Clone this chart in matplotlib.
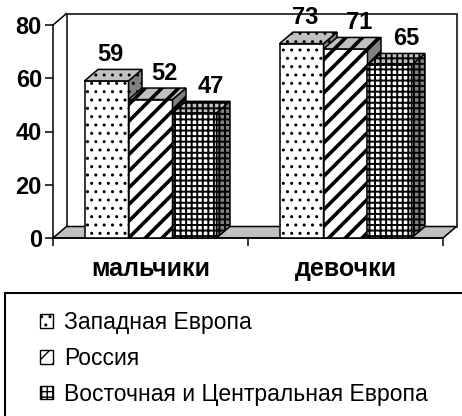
import matplotlib
matplotlib.use("Agg")
import matplotlib.pyplot as plt
from matplotlib.patches import Polygon, Rectangle, Patch

plt.rcParams['font.family'] = ['Liberation Sans', 'DejaVu Sans']

categories = ["мальчики", "девочки"]
series_names = ["Западная Европа", "Россия", "Восточная и Центральная Европа"]
west_europe = [59, 73]
russia = [52, 71]
east_central = [47, 65]
values = [west_europe, russia, east_central]
yticks = [0, 20, 40, 60, 80]

# pattern per series: hatch, hatch linewidth, front/side/top colours
hatches = ["..", "//", "+++"]
hatch_lw = [1.0, 2.6, 1.4]
front_col = ["white", "white", "white"]
side_col = ["#808080", "#808080", "#808080"]
top_col = ["#c0c0c0", "#c0c0c0", "#c0c0c0"]
label_shift = [0.02, 0.07, 0.085]

fig = plt.figure(figsize=(4.62, 4.16), dpi=100)
ax = fig.add_axes([53 / 462, 178 / 416, 390 / 462, 213 / 416])
ax.set_xlim(0, 2)
ax.set_ylim(0, 80)

dx = 13.5 / 195      # 3d depth in x units
dy = 11.5 / 2.6625   # 3d depth in y units
w = 44 / 195
ymax = 80


def poly(pts, fc, hatch=None, hlw=1.0, z=2, lw=1.1):
    with plt.rc_context({'hatch.linewidth': hlw}):
        p = Polygon(pts, closed=True, facecolor=fc, edgecolor='black',
                    hatch=hatch, linewidth=lw, zorder=z, clip_on=False)
        if hasattr(p, 'set_hatch_linewidth'):
            p.set_hatch_linewidth(hlw)
    ax.add_patch(p)
    return p


# back wall and floor
poly([(dx, dy), (2 + dx, dy), (2 + dx, ymax + dy), (dx, ymax + dy)], 'white', z=0.5)
poly([(0, 0), (2, 0), (2 + dx, dy), (dx, dy)], '#c0c0c0', z=1)
ax.plot([0, dx], [ymax, ymax + dy], color='black', lw=1.1, clip_on=False)

for gi, cat in enumerate(categories):
    c = gi + 0.5
    for si in range(len(values)):
        v = values[si][gi]
        x0 = c - 1.5 * w + si * w
        z = 3 + si
        poly([(x0, 0), (x0 + w, 0), (x0 + w, v), (x0, v)], front_col[si],
             hatches[si], hatch_lw[si], z)
        poly([(x0 + w, 0), (x0 + w + dx, dy), (x0 + w + dx, v + dy), (x0 + w, v)],
             side_col[si], hatches[si], hatch_lw[si], z)
        poly([(x0, v), (x0 + dx, v + dy), (x0 + w + dx, v + dy), (x0 + w, v)],
             top_col[si], hatches[si], hatch_lw[si], z)
        ax.text(x0 + w / 2 + label_shift[si], v + dy + 1.2, str(v),
                ha='center', va='bottom', fontsize=17, fontweight='bold', zorder=10)

for s in ['top', 'right']:
    ax.spines[s].set_visible(False)
ax.spines['left'].set_linewidth(1.1)
ax.spines['bottom'].set_linewidth(1.1)
ax.patch.set_visible(False)

ax.set_yticks(yticks)
ax.set_yticklabels([str(t) for t in yticks], fontsize=17, fontweight='bold')
ax.tick_params(axis='y', direction='out', length=6, width=1.1, pad=2)
ax.set_xticks([0.5, 1.5])
ax.set_xticklabels(categories, fontsize=18, fontweight='bold')
ax.set_xticks([0, 1, 2], minor=True)
ax.tick_params(axis='x', which='major', length=0, pad=14)
ax.tick_params(axis='x', which='minor', direction='out', length=6, width=1.1)

# legend
handles = []
for si, name in enumerate(series_names):
    handles.append(Patch(facecolor='white', edgecolor='black', hatch=hatches[si], label=name))
fig.legend(handles=handles, loc='upper left', bbox_to_anchor=(40 / 462, (416 - 311) / 416),
           frameon=False, fontsize=16.5, handlelength=0.55, handleheight=0.55,
           handletextpad=0.5, labelspacing=0.56, borderpad=0, borderaxespad=0)
fig.patches.append(Rectangle((5 / 462, -0.1), 1.0, (416 - 293) / 416 + 0.1,
                             transform=fig.transFigure, facecolor='none',
                             edgecolor='black', linewidth=1.5))

fig.savefig("out.png", dpi=100)
